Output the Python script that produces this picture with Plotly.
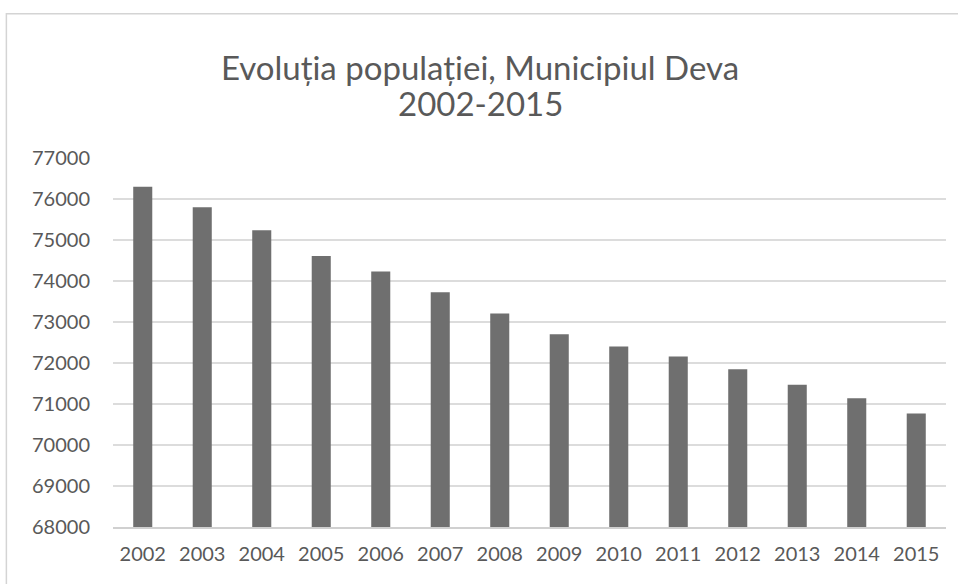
import plotly.graph_objects as go

years = ["2002", "2003", "2004", "2005", "2006", "2007", "2008",
         "2009", "2010", "2011", "2012", "2013", "2014", "2015"]
population = [76300, 75800, 75240, 74610, 74230, 73725, 73210,
              72700, 72400, 72160, 71850, 71470, 71140, 70770]
y_ticks = [68000, 69000, 70000, 71000, 72000, 73000, 74000, 75000, 76000, 77000]
title_line1 = "Evoluția populației, Municipiul Deva"
title_line2 = "2002-2015"

FONT = "Lato, Open Sans, sans-serif"

fig = go.Figure(go.Bar(x=years, y=population, marker_color="#6f6f6f",
                       marker_line_width=0))

fig.update_layout(
    width=958, height=584,
    margin=dict(l=113, r=12, t=158, b=57),
    paper_bgcolor="white", plot_bgcolor="white",
    bargap=0.68,
    showlegend=False,
    font=dict(family=FONT, color="#595959", size=20),
    title=dict(text=title_line1, x=480 / 958, xanchor="center",
               yref="container", y=1 - 68 / 584, yanchor="middle",
               font=dict(size=33, color="#595959", family=FONT)),
    annotations=[dict(text=title_line2, xref="paper", yref="paper",
                      x=(480 - 113) / 833, y=(527 - 103) / 369,
                      xanchor="center", yanchor="middle",
                      showarrow=False, font=dict(size=33, color="#595959", family=FONT))],
    xaxis=dict(type="category", showgrid=False, showline=True, linecolor="#d0d0d0",
               linewidth=1.5, ticks="outside", ticklen=8, tickcolor="rgba(0,0,0,0)",
               tickfont=dict(size=20)),
    yaxis=dict(range=[68000, 77000], tickvals=y_ticks, tickformat="d",
               showgrid=True, gridcolor="#dcdcdc", gridwidth=1.5,
               zeroline=False, showline=False,
               ticks="outside", ticklen=18, tickcolor="rgba(0,0,0,0)",
               tickfont=dict(size=20)),
    shapes=[dict(type="rect", xref="paper", yref="paper",
                 x0=-0.128, x1=1.05, y0=-0.2, y1=1.391,
                 line=dict(color="#d4d4d4", width=1.5), fillcolor="rgba(0,0,0,0)",
                 layer="below")]
)

fig.write_html("out.html")
